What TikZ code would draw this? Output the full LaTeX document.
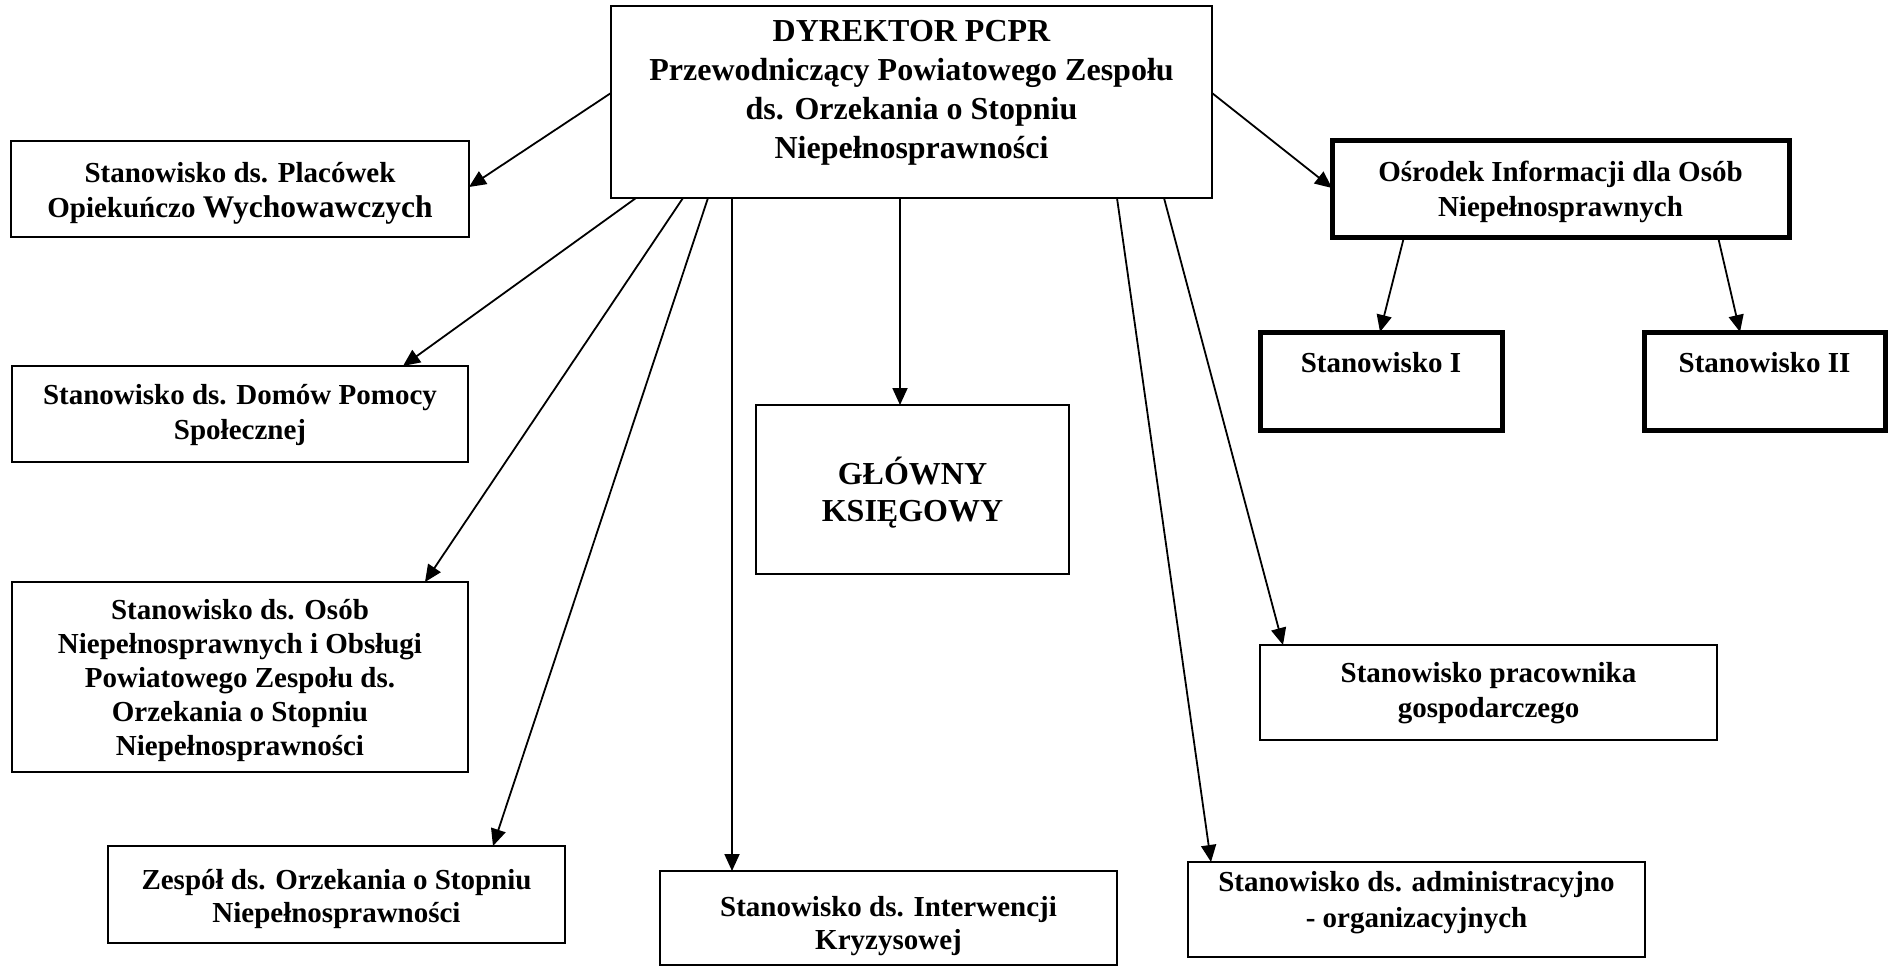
\documentclass[tikz,border=0pt]{standalone}
\usepackage{fontspec}
\setmainfont{Liberation Serif}
\usetikzlibrary{arrows.meta}
\begin{document}
\begin{tikzpicture}[x=1pt,y=-1pt,
  box/.style={draw, line width=2.2pt, inner sep=0pt, outer sep=0pt, rectangle},
  thickbox/.style={box, line width=5pt},
  lbl/.style={align=center, inner sep=0pt, font=\bfseries\fontsize{29}{35}\selectfont},
  arr/.style={line width=1.8pt, -{Triangle[length=17pt,width=15pt]}}]
\useasboundingbox (0,0) rectangle (1888,967);
% boxes
\node[box, minimum width=601pt, minimum height=192pt] (dir) at (911.5,102) {};
\node[box, minimum width=458pt, minimum height=96pt] (plac) at (240,189) {};
\node[box, minimum width=456pt, minimum height=96pt] (dom) at (240,414) {};
\node[box, minimum width=456pt, minimum height=190pt] (osob) at (240,677) {};
\node[box, minimum width=457pt, minimum height=97pt] (zesp) at (336.5,894.5) {};
\node[box, minimum width=457pt, minimum height=94pt] (interw) at (888.5,918) {};
\node[box, minimum width=313pt, minimum height=169pt] (glow) at (912.5,489.5) {};
\node[box, minimum width=457pt, minimum height=95pt] (gosp) at (1488.5,692.5) {};
\node[box, minimum width=457pt, minimum height=95pt] (admin) at (1416.5,909.5) {};
\node[thickbox, minimum width=457pt, minimum height=97pt] (osr) at (1560.5,188.5) {};
\node[thickbox, minimum width=242pt, minimum height=98pt] (st1) at (1381,381) {};
\node[thickbox, minimum width=241pt, minimum height=98pt] (st2) at (1764.5,381) {};
% texts
\node[lbl, font=\bfseries\fontsize{32}{39}\selectfont] (dirT) at (911.5,93)
  {DYREKTOR PCPR\\Przewodniczący Powiatowego Zespołu\\ds. Orzekania o Stopniu\\Niepełnosprawności};
\node[lbl] (placT) at (240,193)
  {Stanowisko ds. Placówek\\Opiekuńczo {\fontsize{31.5}{35}\selectfont Wychowawczych}};
\node[lbl] (domT) at (240,415) {Stanowisko ds. Domów Pomocy\\Społecznej};
\node[lbl, font=\bfseries\fontsize{29}{34}\selectfont] (osobT) at (240,681)
  {Stanowisko ds. Osób\\Niepełnosprawnych i Obsługi\\Powiatowego Zespołu ds.\\Orzekania o Stopniu\\Niepełnosprawności};
\node[lbl, font=\bfseries\fontsize{29}{33}\selectfont] (zespT) at (336.5,899)
  {Zespół ds. Orzekania o Stopniu\\Niepełnosprawności};
\node[lbl, font=\bfseries\fontsize{29}{33}\selectfont] (interwT) at (888.5,926)
  {Stanowisko ds. Interwencji\\Kryzysowej};
\node[lbl, font=\bfseries\fontsize{32}{37}\selectfont] (glowT) at (912.5,493)
  {GŁÓWNY\\KSIĘGOWY};
\node[lbl] (gospT) at (1488.5,693) {Stanowisko pracownika\\gospodarczego};
\node[lbl, font=\bfseries\fontsize{29}{36}\selectfont] (adminT) at (1416.5,903)
  {Stanowisko ds. administracyjno\\- organizacyjnych};
\node[lbl] (osrT) at (1560.5,192) {Ośrodek Informacji dla Osób\\Niepełnosprawnych};
\node[lbl] (st1T) at (1381,363) {Stanowisko I};
\node[lbl] (st2T) at (1764.5,363) {Stanowisko II};
% connectors
\draw[arr] ([yshift=-87pt]dir.north west) -- ([yshift=-46pt]plac.north east);
\draw[arr] ([xshift=25pt]dir.south west) -- ([xshift=391pt]dom.north west);
\draw[arr] ([xshift=72pt]dir.south west) -- ([xshift=413pt]osob.north west);
\draw[arr] ([xshift=97pt]dir.south west) -- ([xshift=385pt]zesp.north west);
\draw[arr] ([xshift=121pt]dir.south west) -- ([xshift=72pt]interw.north west);
\draw[arr] ([xshift=289pt]dir.south west) -- ([xshift=144pt]glow.north west);
\draw[arr] ([xshift=506pt]dir.south west) -- ([xshift=23pt]admin.north west);
\draw[arr] ([xshift=553pt]dir.south west) -- ([xshift=23pt]gosp.north west);
\draw[arr] ([yshift=-87pt]dir.north east) -- ([yshift=-48pt]osr.north west);
\draw[arr] ([xshift=72pt]osr.south west) -- ([xshift=120pt]st1.north west);
\draw[arr] ([xshift=386pt]osr.south west) -- ([xshift=96pt]st2.north west);
\end{tikzpicture}
\end{document}
